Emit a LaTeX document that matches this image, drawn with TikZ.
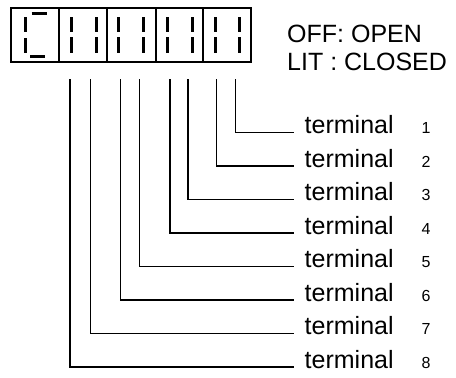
\documentclass[tikz,border=0pt]{standalone}
\usepackage{fontspec}
\setmainfont{Liberation Sans}
\begin{document}
\begin{tikzpicture}[x=1pt,y=-1pt,
  boxline/.style={line width=2pt},
  seg/.style={line width=3pt},
  wire/.style={line width=1.5pt},
  lbl/.style={anchor=base west,inner sep=0pt,font=\fontsize{25}{28}\selectfont},
  num/.style={anchor=base west,inner sep=0pt,font=\fontsize{16}{18}\selectfont}]
\useasboundingbox (0,0) rectangle (456,378);
% display frame
\draw[boxline] (11,7.5) rectangle (251,61.7);
\foreach \x in {59,107,156,203} \draw[boxline] (\x,7.5) -- (\x,61.7);
% cell 1 segments
\draw[seg] (25.7,17) -- (25.7,32);
\draw[seg] (25.7,38) -- (25.7,53);
\draw[seg] (31.7,13.3) -- (46.7,13.3);
\draw[seg] (30,56) -- (45,56);
% cells 2-5 segments
\foreach \x in {71,96,118.3,143.3,167.7,192.7,215,239.3} {
  \draw[seg] (\x,17) -- (\x,32.3);
  \draw[seg] (\x,37.3) -- (\x,52.7);
}
% legend
\node[lbl] (off) at (287,42) {OFF: OPEN};
\node[lbl] (lit) at (287,70.5) {LIT : CLOSED};
% terminals
\foreach \i/\x in {1/235.5,2/216.5,3/188,4/170,5/139.3,6/120.6,7/90.5,8/70} {
  \pgfmathsetmacro{\yy}{132.7+33.5*(\i-1)}
  \coordinate (top\i) at (\x,79);
  \coordinate (end\i) at (294,\yy);
  \node[lbl] (t\i) at (304.5,\yy+0.8) {terminal};
  \node[num] (n\i) at (421.5,\yy+0.8) {\i};
  \draw[wire] (top\i) |- (end\i);
}
\end{tikzpicture}
\end{document}
